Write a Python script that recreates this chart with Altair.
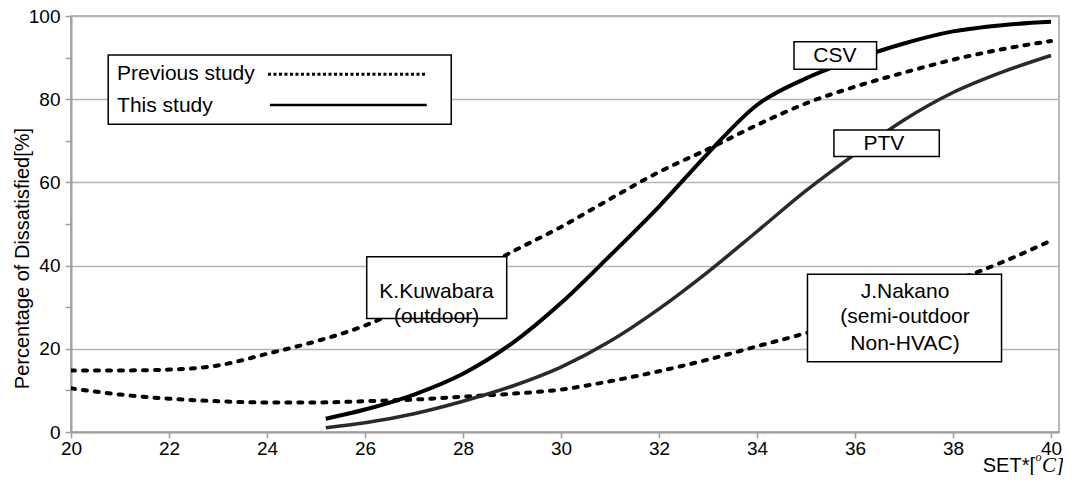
import altair as alt
import pandas as pd

# ---- curve data ----
x_prev = list(range(20, 41))
kuwabara = [14.8, 14.8, 15.0, 16.0, 18.8, 21.8, 25.6, 31.0, 37.0, 43.3, 49.3,
            56.0, 62.5, 68.0, 73.8, 79.0, 83.0, 86.4, 89.5, 92.0, 94.0]
nakano = [10.5, 9.0, 8.0, 7.4, 7.1, 7.1, 7.4, 7.8, 8.5, 9.2, 10.2,
          12.2, 14.6, 17.4, 20.6, 23.8, 27.6, 31.8, 36.2, 40.8, 46.0]
x_this = [25.2, 26, 27, 28, 29, 30, 31, 32, 33, 34, 35, 36, 37, 38, 39, 40]
csv_vals = [3.2, 5.4, 9.0, 14.0, 21.3, 31.0, 42.4, 54.2, 67.0, 78.6, 85.0,
            89.6, 93.4, 96.3, 97.8, 98.6]
ptv_vals = [1.0, 2.2, 4.4, 7.4, 11.0, 15.6, 21.8, 29.6, 38.5, 48.2, 58.0,
            66.8, 75.0, 81.6, 86.5, 90.5]

# ---- annotation boxes (data units) ----
box_name = ["legend", "kuwabara", "nakano", "csv", "ptv"]
box_left = [20.76, 26.035, 35.03, 34.755, 35.57]
box_right = [27.76, 28.892, 38.99, 36.44, 37.72]
box_top = [90.6, 42.1, 37.9, 93.8, 72.6]
box_bottom = [74.0, 27.3, 16.9, 87.2, 66.2]

label_text = ["K.Kuwabara", "(outdoor)", "J.Nakano", "(semi-outdoor", "Non-HVAC)", "CSV", "PTV"]
label_x = [27.46, 27.46, 37.02, 37.02, 37.02, 35.59, 36.59]
label_y = [32.3, 26.3, 32.1, 26.1, 19.7, 89.0, 67.8]

legend_text = ["Previous study", "This study"]
legend_text_x = [20.94, 20.94]
legend_text_y = [84.6, 76.9]
legend_line_x1 = [24.02, 24.06]
legend_line_x2 = [27.26, 27.26]
legend_line_y = [86.0, 78.6]

x_ticks = list(range(20, 41, 2))
y_ticks = list(range(0, 101, 10))

FONT = "Liberation Sans"

rows = []
for name, xs, ys in [("K.Kuwabara", x_prev, kuwabara), ("J.Nakano", x_prev, nakano),
                     ("CSV", x_this, csv_vals), ("PTV", x_this, ptv_vals)]:
    for a, b in zip(xs, ys):
        rows.append({"series": name, "x": a, "y": b})
df = pd.DataFrame(rows)

xscale = alt.Scale(domain=[20, 40.163], nice=False, zero=False)
yscale = alt.Scale(domain=[0, 100], nice=False)

xaxis = alt.Axis(values=x_ticks, grid=False, tickSize=6, tickColor="#a0a0a0", tickWidth=1.5,
                 domainColor="#a0a0a0", domainWidth=2, labelFont=FONT, labelFontSize=19,
                 labelColor="#000000", labelPadding=1, title=None, labelFlush=False)
yaxis = alt.Axis(values=y_ticks, tickSize=6, tickColor="#a0a0a0", tickWidth=1.5,
                 domainColor="#a0a0a0", domainWidth=2, labelFont=FONT, labelFontSize=19,
                 labelColor="#000000", labelPadding=5,
                 labelExpr="datum.value % 20 === 0 ? datum.label : ''",
                 grid=True, gridColor="#b4b4b4", gridWidth=1.5,
                 gridOpacity={"condition": {"test": "datum.value % 20 === 0", "value": 1}, "value": 0},
                 title="Percentage of Dissatisfied[%]", titleFont=FONT, titleFontSize=20,
                 titleFontWeight="normal", titleColor="#000000", titleAngle=270,
                 titleX=-49, titleY=242, titleAlign="center", titleBaseline="middle")


def X(field):
    return alt.X(field, scale=xscale, axis=xaxis)


def Y(field):
    return alt.Y(field, scale=yscale, axis=yaxis)


base = alt.Chart(df)


def curve(name, dash, width, color):
    props = dict(strokeWidth=width, color=color, interpolate="monotone", clip=True)
    if dash:
        props.update(strokeDash=dash, strokeCap="round")
    return base.transform_filter(alt.datum.series == name).mark_line(**props).encode(
        x=X("x:Q"), y=Y("y:Q"))


kuw = curve("K.Kuwabara", [4, 8], 4, "#000000")
nak = curve("J.Nakano", [4, 8], 4, "#000000")
csv_line = curve("CSV", None, 4, "#000000")
ptv_line = curve("PTV", None, 3.5, "#2a2a2a")

boxes = alt.Chart(pd.DataFrame({"name": box_name, "x1": box_left, "x2": box_right,
                                "y1": box_top, "y2": box_bottom})).mark_rect(
    fill="#ffffff", stroke="#000000", strokeWidth=1.5).encode(
    x=X("x1:Q"), x2="x2:Q", y=Y("y1:Q"), y2="y2:Q")

labels = alt.Chart(pd.DataFrame({"t": label_text, "x": label_x, "y": label_y})).mark_text(
    font=FONT, fontSize=21, align="center", baseline="alphabetic", color="#000000").encode(
    x=X("x:Q"), y=Y("y:Q"), text="t:N")

leg_text = alt.Chart(pd.DataFrame({"t": legend_text, "x": legend_text_x, "y": legend_text_y})).mark_text(
    font=FONT, fontSize=21, align="left", baseline="alphabetic", color="#000000").encode(
    x=X("x:Q"), y=Y("y:Q"), text="t:N")

leg_df = pd.DataFrame({"x1": legend_line_x1, "x2": legend_line_x2, "y": legend_line_y,
                       "kind": ["prev", "this"]})
leg_dot = alt.Chart(leg_df).transform_filter(alt.datum.kind == "prev").mark_rule(
    strokeWidth=3, strokeDash=[3, 2.5], color="#000000").encode(
    x=X("x1:Q"), x2="x2:Q", y=Y("y:Q"))
leg_solid = alt.Chart(leg_df).transform_filter(alt.datum.kind == "this").mark_rule(
    strokeWidth=2.6, color="#000000").encode(
    x=X("x1:Q"), x2="x2:Q", y=Y("y:Q"))

# x-axis title pieces (SET*[°C]) placed below the axis at the right
xt1 = alt.Chart(pd.DataFrame({"t": ["SET*["]})).mark_text(
    font=FONT, fontSize=20, align="right", baseline="alphabetic", color="#000000").encode(
    x=alt.value(964), y=alt.value(456), text="t:N")
xt2 = alt.Chart(pd.DataFrame({"t": ["o"]})).mark_text(
    font="Liberation Serif", fontSize=12, fontStyle="italic", align="left", baseline="alphabetic",
    color="#000000").encode(x=alt.value(964.5), y=alt.value(445), text="t:N")
xt3 = alt.Chart(pd.DataFrame({"t": ["C]"]})).mark_text(
    font="Liberation Serif", fontSize=21, fontStyle="italic", align="left", baseline="alphabetic",
    color="#000000").encode(x=alt.value(971), y=alt.value(456), text="t:N")

chart = alt.layer(kuw, nak, csv_line, ptv_line, boxes, labels,
                  leg_text, leg_dot, leg_solid, xt1, xt2, xt3).properties(
    width=988, height=416,
    padding={"left": 63, "top": 8, "right": 4, "bottom": 43},
    autosize="none",
    background="#ffffff",
).configure_view(stroke="#a0a0a0", strokeWidth=1.5)

chart.save("out.html", embed_options={"renderer": "svg", "actions": False})
